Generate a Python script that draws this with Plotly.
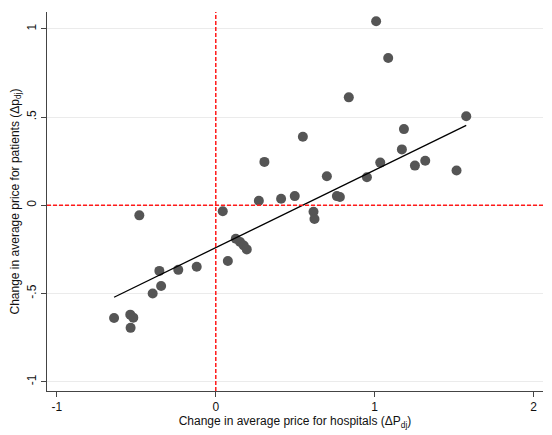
import numpy as np
import plotly.graph_objects as go

# Data
dP_hosp = [1.009, 1.085, 0.837, 1.576, 1.184, 0.548, 1.171, 1.318, 1.253, 1.035,
           1.515, 0.699, 0.951, 0.411, 0.497, 0.762, 0.781, 0.615, 0.621,
           0.306, 0.271, 0.044, -0.481,
           0.126, 0.153, 0.176, 0.195, 0.076, -0.120, -0.236, -0.355, -0.344,
           -0.397, -0.640, -0.538, -0.519, -0.536]
dp_pat = [1.044, 0.835, 0.612, 0.505, 0.432, 0.389, 0.317, 0.253, 0.225, 0.242,
          0.197, 0.165, 0.159, 0.037, 0.052, 0.052, 0.047, -0.037, -0.078,
          0.246, 0.026, -0.034, -0.057,
          -0.190, -0.208, -0.228, -0.250, -0.316, -0.348, -0.366, -0.372, -0.458,
          -0.500, -0.639, -0.620, -0.637, -0.695]

# Fitted line as drawn in the reference (intercept, slope)
fit_intercept = -0.240
fit_slope = 0.44

x_ticks = [-1, 0, 1, 2]
x_ticklabels = ["-1", "0", "1", "2"]
y_ticks = [-1, -0.5, 0, 0.5, 1]
y_ticklabels = ["-1", "-.5", "0", ".5", "1"]

x = np.array(dP_hosp)
y = np.array(dp_pat)
xf = np.array([x.min(), x.max()])
yf = fit_intercept + fit_slope * xf

fig = go.Figure()
fig.add_trace(go.Scatter(x=x, y=y, mode="markers",
                         marker=dict(size=10, color="#555555", line=dict(width=0)),
                         showlegend=False, hoverinfo="skip"))
fig.add_trace(go.Scatter(x=xf, y=yf, mode="lines",
                         line=dict(color="black", width=1.3),
                         showlegend=False, hoverinfo="skip"))

fig.add_hline(y=0, line=dict(color="#ff1a1a", width=1.5, dash="4px,2px"), layer="above")
fig.add_vline(x=0, line=dict(color="#ff1a1a", width=1.5, dash="4px,2px"), layer="above")

font_fam = "Liberation Sans, Arial, Helvetica, sans-serif"
fig.update_layout(
    width=552, height=435,
    margin=dict(l=47, r=9, t=12, b=42),
    paper_bgcolor="white", plot_bgcolor="white",
    font=dict(family=font_fam, size=12, color="#111"),
    xaxis=dict(range=[-1.062, 2.059], tickvals=x_ticks, ticktext=x_ticklabels,
               showgrid=False, zeroline=False, showline=True, linecolor="#444",
               linewidth=1, ticks="outside", ticklen=5, tickcolor="#444",
               tickfont=dict(size=12),
               title=dict(text="Change in average price for hospitals (ΔP<sub>dj</sub>)",
                          standoff=3, font=dict(size=12))),
    yaxis=dict(range=[-1.053, 1.096], tickvals=y_ticks, ticktext=y_ticklabels,
               showgrid=True, gridcolor="#ebebeb", gridwidth=1, zeroline=False,
               showline=True, linecolor="#444", linewidth=1, ticks="outside",
               ticklen=5, tickcolor="#444", tickangle=-90, tickfont=dict(size=12),
               title=dict(text="Change in average price for patients (Δp<sub>dj</sub>)",
                          standoff=3, font=dict(size=12))),
)

fig.write_html("out.html")
